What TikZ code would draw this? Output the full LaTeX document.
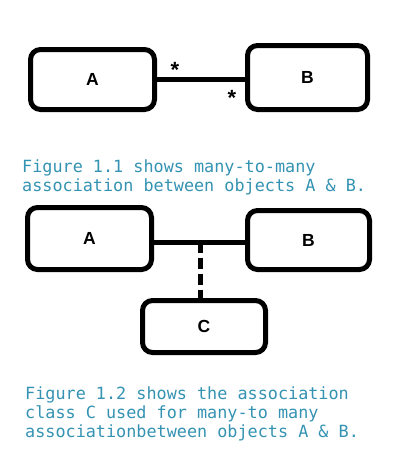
\documentclass[tikz,border=0pt]{standalone}
\usepackage{fontspec}
\setmainfont{Liberation Sans}
\setmonofont{DejaVu Sans Mono}
\usetikzlibrary{positioning}
\definecolor{captionblue}{RGB}{52,146,178}
\newcommand{\objectbox}[5]{
    \node[objbox, minimum width=#3, minimum height=#4] (#1) at (#2) {#5};
}
\newcommand{\captiontext}[3]{
    \node[captionstyle, anchor=north west] (#1) at (#2) {#3};
}

\begin{document}
\begin{tikzpicture}[x=1pt, y=-1pt,
    objbox/.style={draw, rectangle, rounded corners=10pt, line width=5pt, inner sep=0pt, font=\fontsize{17.5}{18}\selectfont\bfseries},
    link/.style={line width=5pt},
    mult/.style={inner sep=0pt, font=\fontsize{22}{22}\selectfont\bfseries},
    captionstyle/.style={inner sep=0pt, align=left, text=captionblue, font=\fontsize{16.8}{19}\selectfont\ttfamily}]
    \useasboundingbox (0,0) rectangle (400,455);
    % figure 1.1
    \objectbox{a1}{92.5,79.5}{124pt}{60pt}{A}
    \objectbox{b1}{307.5,77.5}{120pt}{64pt}{B}
    \node[mult] (stara) at (175,70) {*};
    \node[mult] (starb) at (232,98) {*};
    \captiontext{cap1}{22,160}{Figure 1.1 shows many-to-many\\[-0.7pt]association between objects A \& B.}
    % figure 1.2
    \objectbox{a2}{89.5,238.5}{124pt}{62pt}{A}
    \objectbox{b2}{308.5,240}{122pt}{59pt}{B}
    \objectbox{c2}{204,326.5}{123pt}{52pt}{C}
    \coordinate (mid) at (200,242);
    \captiontext{cap2}{25,387}{Figure 1.2 shows the association\\class C used for many-to many\\associationbetween objects A \& B.}
    \draw[link]
    (a1.east) -- (a1.east -| b1.west)
    (a2.east |- mid) -- (b2.west |- mid);
    \draw[link, dash pattern=on 11pt off 5pt] (mid) -- (mid |- c2.north);
\end{tikzpicture}
\end{document}
